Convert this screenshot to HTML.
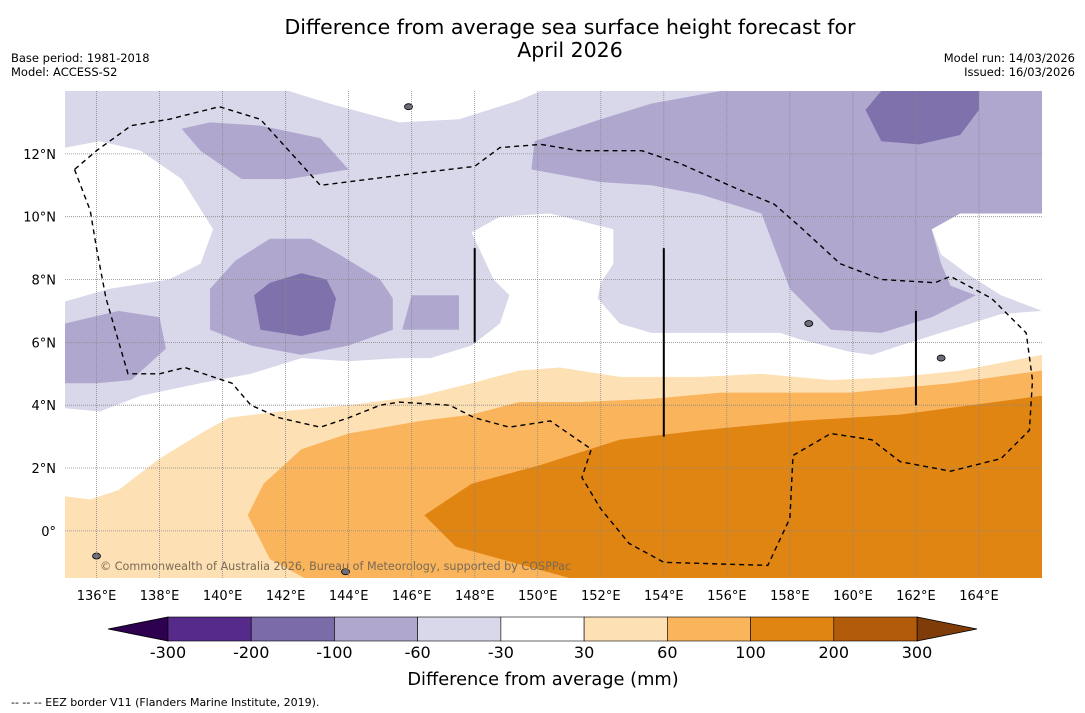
<!DOCTYPE html>
<html><head><meta charset="utf-8">
<style>
html,body{margin:0;padding:0;background:#fff;width:1085px;height:713px;overflow:hidden;font-family:"Liberation Sans","DejaVu Sans",sans-serif;}
svg text{font-family:"DejaVu Sans","Liberation Sans",sans-serif;}
</style></head>
<body>
<svg id="chart" width="1085" height="713" viewBox="0 0 1085 713" xmlns="http://www.w3.org/2000/svg">
<text x="570" y="34" font-size="20.5" text-anchor="middle">Difference from average sea surface height forecast for</text>
<text x="570" y="57" font-size="20.5" text-anchor="middle">April 2026</text>
<text x="11" y="62" font-size="11.5">Base period: 1981-2018</text>
<text x="11" y="76" font-size="11.5">Model: ACCESS-S2</text>
<text x="1075" y="62" font-size="11.5" text-anchor="end">Model run: 14/03/2026</text>
<text x="1075" y="76" font-size="11.5" text-anchor="end">Issued: 16/03/2026</text>
<g id="map"></g>
<g id="cbar"></g>
<text x="543" y="685" font-size="17.8" text-anchor="middle">Difference from average (mm)</text>
<text x="11" y="706" font-size="11">--  --  -- EEZ border V11 (Flanders Marine Institute, 2019).</text>
</svg>
<script>
// Map extent and data (lon, lat)
const lonTicks = [136,138,140,142,144,146,148,150,152,154,156,158,160,162,164];
const latTicks = [0,2,4,6,8,10,12];
const cbLevels = [-300,-200,-100,-60,-30,30,60,100,200,300];
const cbColors = ["#552a8a","#7b6ba8","#b0a7cf","#d8d8ea","#ffffff","#fde0b4","#f9b45c","#e08412","#b25b0a"];
const lightPurple = [[135,14],[166,14],[166,7.0],[164.7,6.9],[163.1,6.4],[161.5,5.9],[160.6,5.6],[159.9,5.7],[158.3,6.1],[157.7,6.3],[155.8,6.3],[153.6,6.3],[152.6,6.6],[151.9,7.4],[152.0,7.9],[152.4,8.5],[152.4,9.6],[150.4,10.1],[148.8,10.0],[147.9,9.5],[148.6,8.0],[149.1,7.5],[148.8,6.6],[147.9,5.9],[146.6,5.5],[145.6,5.5],[144.0,5.4],[142.5,5.5],[140.9,5.0],[139.3,4.7],[137.4,4.3],[136.1,3.8],[135,3.9]];
const whiteTop = [[142.1,14],[143.4,13.6],[145.6,13.0],[147.5,13.1],[149.4,13.7],[150.1,14]];
const whiteLeft = [[135,12.2],[136.1,12.4],[137.4,12.1],[138.7,11.2],[139.7,9.6],[139.3,8.5],[138.3,8.0],[136.4,7.7],[135,7.3]];
const whiteRight = [[166,10.1],[163.4,10.1],[162.5,9.6],[162.8,8.8],[163.6,8.2],[164.7,7.5],[166,7.0]];
const medTopRight = [[149.9,12.4],[152.0,13.1],[153.6,13.6],[155.8,14],[166,14],[166,10.1],[163.4,10.1],[162.5,9.6],[162.8,8.5],[163.1,7.8],[163.9,7.5],[162.5,6.8],[160.9,6.3],[159.3,6.4],[158.0,7.7],[157.4,9.3],[157.1,10.1],[155.2,10.7],[153.6,11.0],[152.0,11.1],[149.8,11.5]];
const medTopLeft = [[138.7,12.8],[139.6,13.0],[141.2,12.9],[143.1,12.5],[144.0,11.5],[142.1,11.2],[140.6,11.2],[139.3,12.1]];
const medMid = [[139.6,7.7],[140.4,8.6],[141.5,9.3],[142.8,9.3],[143.7,8.8],[145.0,8.0],[145.4,7.4],[145.4,6.4],[144.0,5.9],[142.5,5.6],[140.9,5.9],[139.6,6.4]];
const medSmall = [[145.7,6.4],[146.0,7.5],[147.5,7.5],[147.5,6.4]];
const medLeft = [[135,6.6],[136.7,7.0],[138.0,6.8],[138.2,5.8],[137.1,4.8],[136.0,4.7],[135,4.7]];
const darkMid = [[141.0,7.5],[141.5,7.9],[142.5,8.2],[143.3,8.0],[143.6,7.4],[143.4,6.4],[142.5,6.2],[141.2,6.4]];
const darkTopRight = [[160.4,13.4],[160.9,14],[164.0,14],[164.0,13.4],[163.4,12.6],[162.1,12.3],[160.9,12.4]];
const lightOrange = [[135,1.1],[135.8,1.0],[136.7,1.3],[138.0,2.3],[139.3,3.1],[140.2,3.6],[141.8,3.8],[144.0,4.0],[146.3,4.3],[147.9,4.7],[149.4,5.1],[150.7,5.2],[152.6,4.9],[155.2,4.9],[157.1,5.0],[159.3,4.8],[161.5,4.9],[163.4,5.1],[166,5.6],[166,-1.5],[135,-1.5]];
const midOrange = [[140.8,0.5],[141.3,1.5],[142.5,2.6],[144.0,3.1],[146.3,3.5],[147.9,3.7],[149.4,4.1],[151.3,4.1],[153.6,4.2],[155.8,4.4],[157.7,4.4],[159.9,4.4],[163.1,4.7],[166,5.1],[166,-1.5],[142.6,-1.5],[141.5,-0.9]];
const darkOrange = [[146.4,0.5],[147.9,1.5],[150.1,2.1],[152.6,2.9],[155.2,3.2],[158.3,3.5],[161.5,3.7],[166,4.3],[166,-1.5],[151.0,-1.5],[147.4,-0.5]];
const eez = [[135.3,11.5],[135.8,10.2],[136.0,9.0],[136.3,7.4],[137.0,5.0],[138.0,5.0],[138.8,5.2],[140.3,4.7],[140.9,4.0],[141.8,3.6],[143.1,3.3],[144.0,3.6],[145.0,4.0],[145.6,4.1],[147.2,4.0],[148.0,3.6],[149.1,3.3],[150.4,3.5],[151.7,2.6],[151.4,1.7],[152.0,0.7],[152.9,-0.4],[154.0,-1.0],[157.3,-1.1],[158.0,0.4],[158.1,2.4],[159.3,3.1],[160.6,2.9],[161.5,2.2],[163.1,1.9],[164.7,2.3],[165.6,3.2],[165.7,4.8],[165.5,6.3],[164.4,7.4],[163.1,8.1],[162.6,7.9],[160.9,8.0],[159.6,8.5],[158.3,9.7],[157.5,10.4],[156.3,10.9],[154.5,11.7],[153.3,12.1],[151.3,12.1],[150.1,12.3],[148.8,12.2],[148.0,11.6],[146.3,11.4],[143.1,11.0],[141.2,13.1],[139.9,13.5],[138.3,13.1],[137.1,12.9],[136.0,12.1],[135.3,11.5]];
const boundaryLines = [[148,9.0,6.0],[154,9.0,3.0],[162,7.0,4.0]];
const islands = [[145.9,13.5],[158.6,6.6],[136.0,-0.8],[143.9,-1.3],[162.8,5.5]];

const X0=65,X1=1042,Y0=91,Y1=578,LON0=135,LON1=166,LAT0=-1.5,LAT1=14;
function xs(lon){return X0+(lon-LON0)/(LON1-LON0)*(X1-X0);}
function ys(lat){return Y0+(LAT1-lat)/(LAT1-LAT0)*(Y1-Y0);}
const NS="http://www.w3.org/2000/svg";
const map=document.getElementById('map');
function mk(tag,attrs,parent){const e=document.createElementNS(NS,tag);for(const k in attrs)e.setAttribute(k,attrs[k]);(parent||map).appendChild(e);return e;}
function pts(a){return a.map(p=>xs(p[0]).toFixed(1)+","+ys(p[1]).toFixed(1)).join(" ");}

const cp=mk('clipPath',{id:'mc'});mk('rect',{x:X0,y:Y0,width:X1-X0,height:Y1-Y0},cp);
const g=mk('g',{'clip-path':'url(#mc)'});
const layers=[[lightPurple,"#d8d8ea","contour-minus60-to-minus30"],[whiteTop,"#ffffff","contour-neutral-top"],[whiteLeft,"#ffffff","contour-neutral-left"],[whiteRight,"#ffffff","contour-neutral-right"],
[medTopRight,"#b0a7cf","contour-minus100-northeast"],[medTopLeft,"#b0a7cf","contour-minus100-northwest"],[medMid,"#b0a7cf","contour-minus100-central"],[medSmall,"#b0a7cf","contour-minus100-small"],[medLeft,"#b0a7cf","contour-minus100-west"],
[darkMid,"#7f71ab","contour-minus200-central"],[darkTopRight,"#7f71ab","contour-minus200-northeast"],
[lightOrange,"#fde0b4","contour-30-to-60"],[midOrange,"#f9b45c","contour-60-to-100"],[darkOrange,"#e08412","contour-100-to-200"]];
layers.forEach(l=>{const p=mk('polygon',{points:pts(l[0]),fill:l[1]},g);

});
islands.forEach(s=>{const e=mk('ellipse',{cx:xs(s[0]),cy:ys(s[1]),rx:4,ry:3,fill:'#6d6d7a',stroke:'#000','stroke-width':0.8},g);

});
const txt=mk('text',{x:100,y:570,'font-size':11.2,fill:'#7a6a55'},g);txt.textContent="© Commonwealth of Australia 2026, Bureau of Meteorology, supported by COSPPac";


// grid
lonTicks.forEach(lon=>{const l=mk('line',{x1:xs(lon),x2:xs(lon),y1:Y0,y2:Y1,stroke:'#888','stroke-width':0.8,'stroke-dasharray':'1,1'});


const t=mk('text',{x:xs(lon),y:Y1+22,'font-size':13,'text-anchor':'middle'});t.textContent=lon+"°E";

});
latTicks.forEach(lat=>{const l=mk('line',{x1:X0,x2:X1,y1:ys(lat),y2:ys(lat),stroke:'#888','stroke-width':0.8,'stroke-dasharray':'1,1'});


const t=mk('text',{x:X0-9,y:ys(lat)+5,'font-size':13,'text-anchor':'end'});t.textContent=lat===0?"0°":lat+"°N";

});
boundaryLines.forEach(b=>{const l=mk('line',{x1:xs(b[0]),x2:xs(b[0]),y1:ys(b[1]),y2:ys(b[2]),stroke:'#000','stroke-width':2});

});
const ez=mk('polyline',{points:pts(eez),fill:'none',stroke:'#000','stroke-width':1.4,'stroke-dasharray':'5,4'});



// colorbar
const cb=document.getElementById('cbar');
const CB0=168,CB1=917,CBY=617,CBH=24,STEP=(CB1-CB0)/(cbColors.length);
const lt=mk('polygon',{points:`108,${CBY+CBH/2} ${CB0},${CBY} ${CB0},${CBY+CBH}`,fill:'#2d0050',stroke:'#000','stroke-width':0.8},cb);


const rt=mk('polygon',{points:`977,${CBY+CBH/2} ${CB1},${CBY} ${CB1},${CBY+CBH}`,fill:'#7f3b08',stroke:'#000','stroke-width':0.8},cb);


cbColors.forEach((c,i)=>{const r=mk('rect',{x:CB0+i*STEP,y:CBY,width:STEP,height:CBH,fill:c,stroke:'#000','stroke-width':0.6},cb);

});
cbLevels.forEach((v,i)=>{const t=mk('text',{x:CB0+i*STEP,y:658,'font-size':16,'text-anchor':'middle'},cb);t.textContent=v;

});
</script>
</body></html>
